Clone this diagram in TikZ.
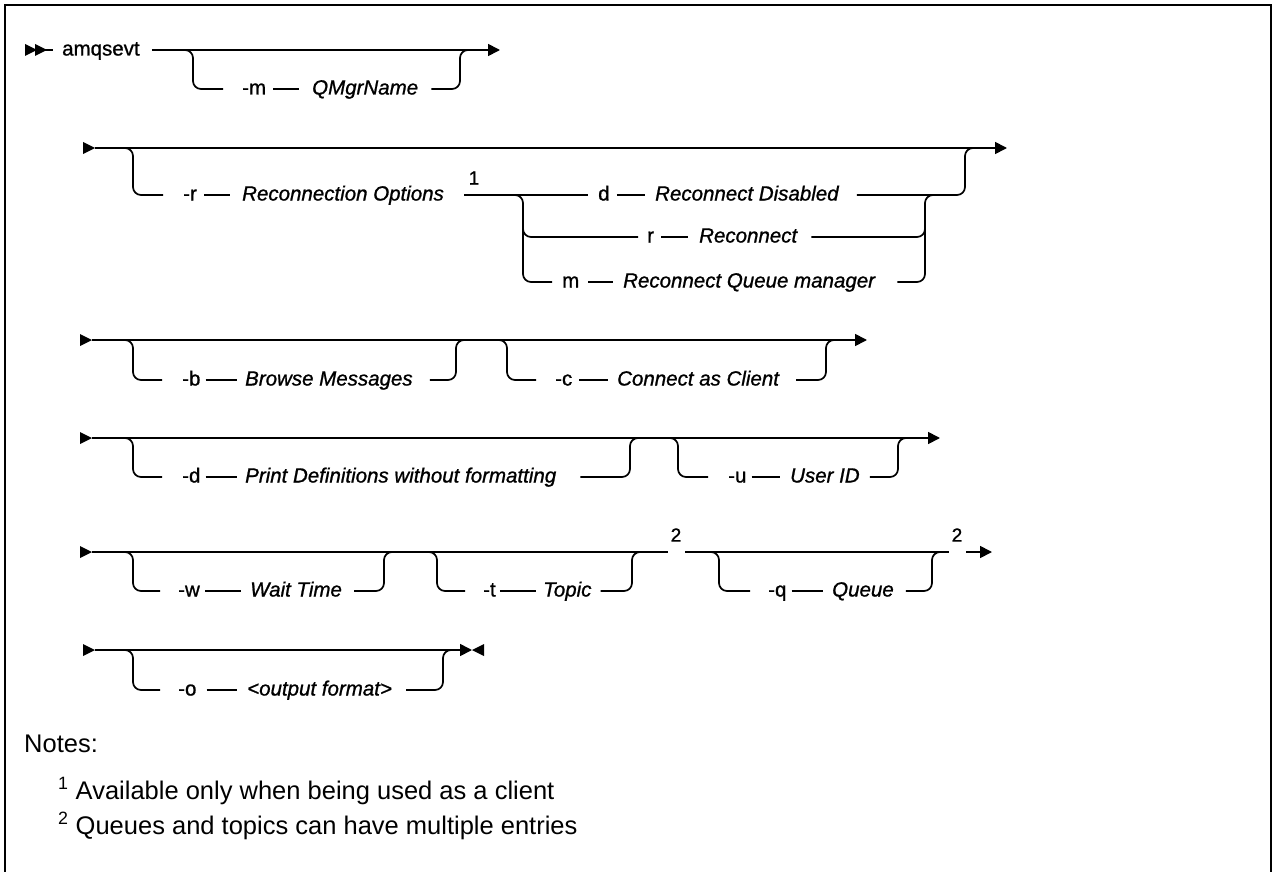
\documentclass[tikz,border=0pt]{standalone}
\usepackage{fontspec}
\setmainfont{Liberation Sans}
\newfontfamily\railfont[FakeBold=1]{Liberation Sans}
\usetikzlibrary{arrows.meta}

\newcommand{\railsize}{\railfont\fontsize{20.5}{24}\selectfont}
\newcommand{\notesize}{\fontsize{25.5}{30}\selectfont}

\tikzset{
  rail/.style={line width=1.7pt},
  endtip/.style={-{Triangle[length=12pt,width=12pt]}},
  optkw/.style={inner sep=0pt, text height=11pt, text depth=0pt, anchor=west, font=\railsize},
  optvar/.style={optkw, font=\railsize\itshape},
  fnote/.style={inner sep=0pt, font=\railfont\fontsize{19}{21}\selectfont},
  notetext/.style={inner sep=0pt, anchor=base west, font=\notesize},
  fwd/.pic={\fill (0,-6) -- (12,0) -- (0,6) -- cycle;},
  bwd/.pic={\fill (0,-6) -- (-12,0) -- (0,6) -- cycle;},
}

\begin{document}
\begin{tikzpicture}[x=1pt,y=-1pt]
        \useasboundingbox (0,0) rectangle (1274,872);
        % frame, open at the bottom
        \draw[line width=2.5pt] (5,872) -- (5,5) -- (1271,5) -- (1271,872);

        % row 1: amqsevt [-m QMgrName]
        \pic at (25,50) {fwd};
        \pic at (35,50) {fwd};
        \node[optkw] (cmd) at (62,50) {amqsevt};
        \node[optkw] (mflag) at (242,89) {-m};
        \node[optvar] (mname) at (312,89) {QMgrName};
        \coordinate (end1) at (500,50);
        \draw[rail] (25,50) -- (53,50);
        \draw[rail,endtip] ([xshift=12]cmd.east) -- (end1);
        \draw[rail,rounded corners=8] (177,50) -- (193,50) -- (193,89) -- ([xshift=-19]mflag.west);
        \draw[rail] ([xshift=7]mflag.east) -- ([xshift=-13]mname.west);
        \draw[rail,rounded corners=8] ([xshift=13]mname.east) -- (460,89) -- (460,50) -- (476,50);

        % row 2: [-r Reconnection Options {d|r|m}]
        \pic at (83,148) {fwd};
        \node[optkw] (rflag) at (183,195) {-r};
        \node[optvar] (rname) at (242,195) {Reconnection Options};
        \node[fnote] (fn1) at (474,178) {1};
        \node[optkw] (dflag) at (598,195) {d};
        \node[optvar] (dname) at (655,195) {Reconnect Disabled};
        \node[optkw] (rrflag) at (647,237) {r};
        \node[optvar] (rrname) at (699,237) {Reconnect};
        \node[optkw] (mmflag) at (562,282) {m};
        \node[optvar] (mmname) at (623,282) {Reconnect Queue manager};
        \coordinate (end2) at (1007,148);
        \draw[rail,endtip] (95,148) -- (end2);
        \draw[rail,rounded corners=8] (117,148) -- (133,148) -- (133,195) -- ([xshift=-20]rflag.west);
        \draw[rail] ([xshift=7]rflag.east) -- ([xshift=-12]rname.west);
        \draw[rail] ([xshift=20]rname.east) -- ([xshift=-10]dflag.west);
        \draw[rail] ([xshift=7]dflag.east) -- ([xshift=-10]dname.west);
        \draw[rail,rounded corners=8] ([xshift=18]dname.east) -- (965,195) -- (965,148) -- (981,148);
        \draw[rail,rounded corners=8] (507,195) -- (523,195) -- (523,282) -- ([xshift=-10]mmflag.west);
        \draw[rail,rounded corners=8] (523,220) -- (523,237) -- ([xshift=-9]rrflag.west);
        \draw[rail] ([xshift=7]rrflag.east) -- ([xshift=-11]rrname.west);
        \draw[rail,rounded corners=8] ([xshift=14]rrname.east) -- (925,237) -- (925,220);
        \draw[rail] ([xshift=9]mmflag.east) -- ([xshift=-10]mmname.west);
        \draw[rail,rounded corners=8] ([xshift=22]mmname.east) -- (925,282) -- (925,195) -- (941,195);

        % row 3: [-b Browse Messages] [-c Connect as Client]
        \pic at (80,340) {fwd};
        \node[optkw] (bflag) at (182,380) {-b};
        \node[optvar] (bname) at (245,380) {Browse Messages};
        \node[optkw] (cflag) at (555,380) {-c};
        \node[optvar] (cname) at (617,380) {Connect as Client};
        \coordinate (end3) at (867,340);
        \draw[rail,endtip] (92,340) -- (end3);
        \draw[rail,rounded corners=8] (117,340) -- (133,340) -- (133,380) -- ([xshift=-20]bflag.west);
        \draw[rail] ([xshift=5]bflag.east) -- ([xshift=-8]bname.west);
        \draw[rail,rounded corners=8] ([xshift=17]bname.east) -- (456,380) -- (456,340) -- (472,340);
        \draw[rail,rounded corners=8] (491,340) -- (507,340) -- (507,380) -- ([xshift=-19]cflag.west);
        \draw[rail] ([xshift=7]cflag.east) -- ([xshift=-9]cname.west);
        \draw[rail,rounded corners=8] ([xshift=17]cname.east) -- (826,380) -- (826,340) -- (842,340);

        % row 4: [-d Print Definitions without formatting] [-u User ID]
        \pic at (80,438) {fwd};
        \node[optkw] (pflag) at (182,477) {-d};
        \node[optvar] (pname) at (245,477) {Print Definitions without formatting};
        \node[optkw] (uflag) at (728,477) {-u};
        \node[optvar] (uname) at (790,477) {User ID};
        \coordinate (end4) at (940,438);
        \draw[rail,endtip] (92,438) -- (end4);
        \draw[rail,rounded corners=8] (117,438) -- (133,438) -- (133,477) -- ([xshift=-20]pflag.west);
        \draw[rail] ([xshift=5]pflag.east) -- ([xshift=-8]pname.west);
        \draw[rail,rounded corners=8] ([xshift=24]pname.east) -- (630,477) -- (630,438) -- (646,438);
        \draw[rail,rounded corners=8] (662,438) -- (678,438) -- (678,477) -- ([xshift=-20]uflag.west);
        \draw[rail] ([xshift=5]uflag.east) -- ([xshift=-10]uname.west);
        \draw[rail,rounded corners=8] ([xshift=10]uname.east) -- (898,477) -- (898,438) -- (914,438);

        % row 5: [-w Wait Time] [-t Topic] (2) [-q Queue] (2)
        \pic at (80,552) {fwd};
        \node[optkw] (wflag) at (178,591) {-w};
        \node[optvar] (wname) at (250,591) {Wait Time};
        \node[optkw] (tflag) at (483,591) {-t};
        \node[optvar] (tname) at (543,591) {Topic};
        \node[optkw] (qflag) at (768,591) {-q};
        \node[optvar] (qname) at (832,591) {Queue};
        \node[fnote] (fn2a) at (676,535) {2};
        \node[fnote] (fn2b) at (957,535) {2};
        \coordinate (gapa1) at (668,552);
        \coordinate (gapa2) at (685,552);
        \coordinate (gapb1) at (949,552);
        \coordinate (gapb2) at (966,552);
        \coordinate (end5) at (992,552);
        \draw[rail] (92,552) -- (gapa1);
        \draw[rail] (gapa2) -- (gapb1);
        \draw[rail,endtip] (gapb2) -- (end5);
        \draw[rail,rounded corners=8] (117,552) -- (133,552) -- (133,591) -- ([xshift=-18]wflag.west);
        \draw[rail] ([xshift=5]wflag.east) -- ([xshift=-9]wname.west);
        \draw[rail,rounded corners=8] ([xshift=12]wname.east) -- (384,591) -- (384,552) -- (400,552);
        \draw[rail,rounded corners=8] (421,552) -- (437,552) -- (437,591) -- ([xshift=-18]tflag.west);
        \draw[rail] ([xshift=4]tflag.east) -- ([xshift=-7]tname.west);
        \draw[rail,rounded corners=8] ([xshift=9]tname.east) -- (632,591) -- (632,552) -- (648,552);
        \draw[rail,rounded corners=8] (703,552) -- (719,552) -- (719,591) -- ([xshift=-18]qflag.west);
        \draw[rail] ([xshift=5]qflag.east) -- ([xshift=-9]qname.west);
        \draw[rail,rounded corners=8] ([xshift=12]qname.east) -- (932,591) -- (932,552) -- (948,552);

        % row 6: [-o <output format>]
        \pic at (83,650) {fwd};
        \node[optkw] (oflag) at (178,690) {-o};
        \node[optvar] (oname) at (247,690) {<output format>};
        \coordinate (end6) at (472,650);
        \draw[rail,endtip] (95,650) -- (end6);
        \pic at (484,650) {bwd};
        \draw[rail,rounded corners=8] (117,650) -- (133,650) -- (133,690) -- ([xshift=-18]oflag.west);
        \draw[rail] ([xshift=10]oflag.east) -- ([xshift=-10]oname.west);
        \draw[rail,rounded corners=8] ([xshift=14]oname.east) -- (443,690) -- (443,650) -- (459,650);

        % notes
        \node[notetext] (notes) at (24,752) {Notes:};
        \node[notetext] (note1) at (58,799) {\textsuperscript{1} Available only when being used as a client};
        \node[notetext] (note2) at (58,834) {\textsuperscript{2} Queues and topics can have multiple entries};
\end{tikzpicture}
\end{document}
